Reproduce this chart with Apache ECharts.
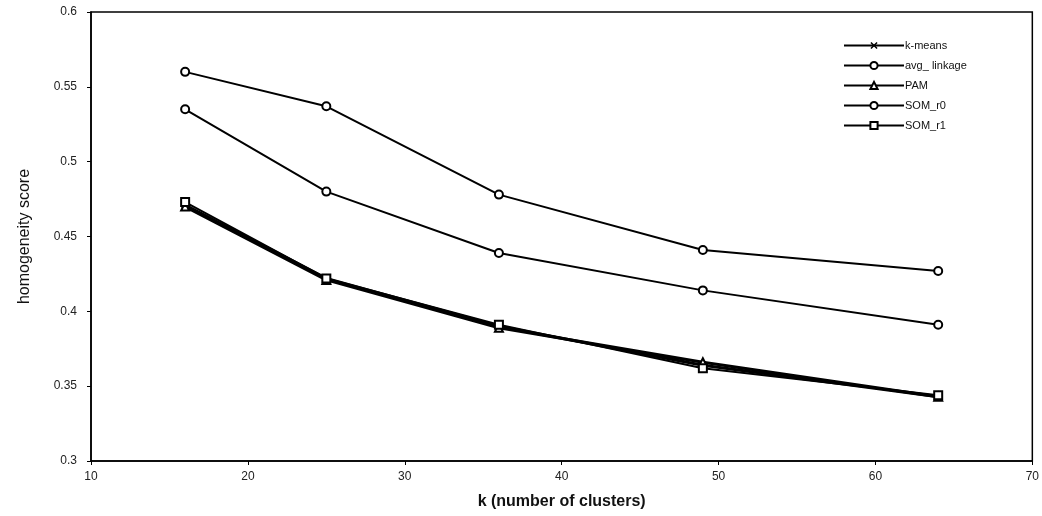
<!DOCTYPE html>
<html>
<head>
<meta charset="utf-8">
<script src="https://cdn.jsdelivr.net/npm/echarts@6/dist/echarts.min.js"></script>
<style>
  html, body { margin: 0; padding: 0; background: #fff; }
  #chart { width: 1042px; height: 516px; }
</style>
</head>
<body>
<div id="chart"></div>
<script>
// Number of clusters k (square SOM grids 4x4 ... 8x8)
const kValues = [16, 25, 36, 49, 64];

// Homogeneity score per clustering method
const kMeans     = [0.471, 0.422, 0.390, 0.364, 0.343];
const avgLinkage = [0.560, 0.537, 0.478, 0.441, 0.427];
const pam        = [0.470, 0.421, 0.389, 0.366, 0.343];
const somR0      = [0.535, 0.480, 0.439, 0.414, 0.391];
const somR1      = [0.473, 0.422, 0.391, 0.362, 0.344];

const seriesNames = ['k-means', 'avg_ linkage', 'PAM', 'SOM_r0', 'SOM_r1'];

// filled "x" glyph for the k-means markers
const crossSymbol = 'path://M0,1.5L1.5,0L5,3.5L8.5,0L10,1.5L6.5,5L10,8.5L8.5,10L5,6.5L1.5,10L0,8.5L3.5,5Z';

const pairs = vals => kValues.map((k, i) => [k, vals[i]]);

function lineSeries(name, vals, symbol, width, size, fill) {
  return {
    name: name,
    type: 'line',
    data: pairs(vals),
    symbol: symbol,
    symbolSize: size,
    showSymbol: true,
    lineStyle: { color: '#000', width: width },
    itemStyle: { color: fill, borderColor: '#000', borderWidth: fill === '#000' ? 0 : 2 },
    emphasis: { disabled: true },
    animation: false
  };
}

const chart = echarts.init(document.getElementById('chart'));
chart.setOption({
  backgroundColor: '#fff',
  textStyle: { fontFamily: 'Liberation Sans, Arial, sans-serif' },
  grid: {
    left: 91, right: 3, top: 12, bottom: 55,
    show: true, borderColor: '#000', borderWidth: 1.5, backgroundColor: '#fff'
  },
  legend: {
    orient: 'vertical',
    left: 838, top: 35,
    itemWidth: 60, itemHeight: 9, itemGap: 9,
    data: seriesNames,
    textStyle: { fontSize: 11, color: '#111', padding: [0, 0, 0, -4] }
  },
  xAxis: {
    type: 'value',
    min: 10, max: 70, interval: 10,
    name: 'k (number of clusters)',
    nameLocation: 'middle',
    nameGap: 33,
    nameTextStyle: { fontSize: 16, fontWeight: 'bold', color: '#111' },
    axisLine: { show: true, lineStyle: { color: '#000', width: 1.5 } },
    axisTick: { show: true, length: 4, lineStyle: { color: '#000' } },
    axisLabel: { fontSize: 12, color: '#222', margin: 10 },
    splitLine: { show: false }
  },
  yAxis: {
    type: 'value',
    min: 0.3, max: 0.6, interval: 0.05,
    name: 'homogeneity score',
    nameLocation: 'middle',
    nameGap: 58,
    nameTextStyle: { fontSize: 16, color: '#111' },
    axisLine: { show: true, lineStyle: { color: '#000', width: 1.5 } },
    axisTick: { show: true, length: 4, lineStyle: { color: '#000' } },
    axisLabel: { fontSize: 12, color: '#222', margin: 14 },
    splitLine: { show: false }
  },
  series: [
    lineSeries(seriesNames[0], kMeans, crossSymbol, 3, 8, '#000'),
    lineSeries(seriesNames[1], avgLinkage, 'circle', 2, 8, '#fff'),
    lineSeries(seriesNames[2], pam, 'triangle', 3, 8, '#fff'),
    lineSeries(seriesNames[3], somR0, 'circle', 2, 8, '#fff'),
    lineSeries(seriesNames[4], somR1, 'rect', 2, 8, '#fff')
  ]
});
</script>
</body>
</html>
